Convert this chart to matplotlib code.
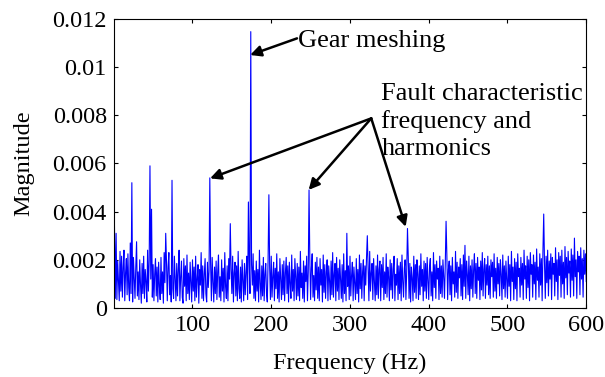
import numpy as np
import matplotlib
matplotlib.use("Agg")
import matplotlib.pyplot as plt

# Spectrum floor, 1 Hz bins from 0 to 600 Hz, in units of 1e-5
floor_e5 = [
    300, 310, 40, 220, 35, 195, 110, 30, 235, 70, 215, 45, 170, 240, 30, 145, 205, 55, 225, 85,
    30, 180, 60, 190, 25, 210, 120, 40, 170, 275, 50, 150, 35, 200, 95, 20, 185, 60, 215, 40,
    160, 110, 25, 240, 70, 195, 30, 120, 260, 45, 180, 30, 140, 205, 50, 170, 25, 190, 90, 35,
    210, 60, 150, 20, 230, 105, 40, 190, 30, 170, 230, 55, 135, 25, 200, 80, 40, 215, 120, 30,
    185, 50, 160, 240, 30, 130, 195, 45, 20, 205, 90, 175, 30, 220, 60, 145, 35, 190, 110, 25,
    200, 70, 170, 30, 215, 45, 120, 180, 20, 160, 95, 230, 40, 175, 30, 140, 205, 60, 25, 190,
    85, 150, 40, 185, 30, 210, 110, 25, 170, 60, 195, 35, 150, 220, 45, 130, 30, 200, 70, 165,
    25, 230, 90, 40, 175, 30, 205, 120, 35, 160, 60, 215, 25, 145, 190, 50, 175, 30, 235, 80,
    40, 170, 25, 200, 110, 30, 185, 55, 150, 215, 35, 125, 200, 60, 30, 180, 95, 225, 40, 155,
    30, 195, 70, 160, 25, 240, 105, 35, 175, 50, 210, 30, 140, 185, 60, 25, 200, 90, 170, 35,
    215, 45, 130, 190, 30, 165, 80, 225, 40, 150, 25, 205, 115, 35, 180, 55, 195, 30, 145, 210,
    60, 175, 25, 190, 100, 40, 220, 70, 160, 30, 205, 130, 35, 185, 50, 170, 30, 235, 85, 145,
    40, 195, 25, 175, 110, 215, 30, 150, 60, 200, 35, 165, 225, 45, 135, 30, 190, 75, 210, 40,
    170, 30, 205, 95, 160, 25, 220, 65, 180, 40, 150, 200, 30, 175, 115, 35, 195, 55, 230, 45,
    140, 185, 30, 210, 70, 165, 35, 200, 120, 40, 180, 25, 225, 60, 155, 30, 195, 90, 175, 35,
    215, 50, 135, 190, 30, 170, 105, 35, 205, 60, 160, 25, 220, 80, 185, 40, 150, 200, 30, 175,
    95, 210, 40, 165, 30, 235, 70, 145, 185, 35, 205, 110, 30, 175, 55, 220, 40, 160, 195, 30,
    180, 85, 210, 35, 150, 60, 225, 45, 170, 130, 30, 200, 75, 185, 40, 160, 215, 30, 140, 95,
    205, 35, 175, 60, 190, 30, 220, 110, 45, 165, 200, 35, 150, 80, 210, 40, 185, 25, 170, 125,
    30, 215, 65, 180, 40, 200, 140, 35, 175, 55, 225, 90, 160, 30, 195, 70, 185, 40, 210, 115,
    35, 170, 205, 50, 150, 30, 230, 85, 180, 40, 195, 120, 165, 35, 215, 60, 175, 45, 200, 130,
    40, 185, 70, 220, 35, 160, 195, 55, 175, 30, 210, 100, 150, 45, 235, 65, 190, 40, 170, 125,
    205, 50, 180, 35, 220, 90, 165, 40, 195, 140, 55, 215, 30, 175, 80, 200, 45, 160, 225, 60,
    185, 40, 210, 115, 170, 35, 195, 75, 230, 50, 160, 205, 40, 180, 95, 215, 55, 175, 40, 200,
    130, 190, 45, 225, 70, 165, 40, 210, 100, 185, 50, 200, 140, 35, 220, 80, 175, 45, 195, 120,
    40, 215, 90, 180, 30, 235, 110, 170, 35, 205, 80, 190, 30, 225, 130, 165, 45, 210, 95, 185,
    35, 240, 120, 175, 40, 215, 85, 200, 30, 230, 140, 180, 45, 220, 100, 190, 35, 245, 115, 170,
    45, 225, 95, 205, 30, 235, 130, 185, 40, 215, 105, 240, 50, 195, 120, 225, 35, 210, 140, 185,
    50, 250, 110, 200, 35, 230, 135, 215, 45, 240, 100, 190, 40, 255, 125, 210, 55, 235, 145, 195,
    45, 245, 115, 220, 50, 260, 130, 200, 40, 235, 150, 215, 55, 250, 120, 205, 45, 240, 140, 225,
    110,
]

# Distinct spectral lines (Hz) and their magnitudes
peak_freqs = [0, 3, 21, 23, 46, 48, 66, 74, 122, 148, 171, 174, 197, 248,
              296, 322, 373, 422, 446, 546, 585]
peak_mags = [0.0059, 0.0031, 0.0027, 0.0052, 0.0059, 0.0041, 0.0031, 0.0053,
             0.0054, 0.0035, 0.0044, 0.01147, 0.0047, 0.0049, 0.0031, 0.0030,
             0.0033, 0.0036, 0.0026, 0.0039, 0.0029]

x_ticks = [100, 200, 300, 400, 500, 600]
y_ticks = [0, 0.002, 0.004, 0.006, 0.008, 0.010, 0.012]
y_tick_labels = ["0", "0.002", "0.004", "0.006", "0.008", "0.01", "0.012"]

freq = np.arange(len(floor_e5), dtype=float)
mag = np.array(floor_e5, dtype=float) * 1e-5
for f, m in zip(peak_freqs, peak_mags):
    mag[int(f)] = m

plt.rcParams["font.family"] = ["Liberation Serif", "DejaVu Serif"]

fig = plt.figure(figsize=(6.05, 3.77), dpi=100)
ax = fig.add_axes([0.188, 0.183, 0.781, 0.767])

ax.plot(freq, mag, color=(0, 0, 1), lw=0.8)

ax.set_xlim(0, 600)
ax.set_ylim(0, 0.012)
ax.set_xticks(x_ticks)
ax.set_yticks(y_ticks)
ax.set_yticklabels(y_tick_labels)
ax.tick_params(direction="in", length=3, width=0.8, top=True, right=True,
               labelsize=17.5, pad=5, colors="black")
for s in ax.spines.values():
    s.set_linewidth(0.8)

ax.set_xlabel("Frequency (Hz)", fontsize=17.5, labelpad=12)
ax.set_ylabel("Magnitude", fontsize=17.5, labelpad=13)

arrow = dict(arrowstyle="-|>", color="black", lw=1.8, mutation_scale=16,
             shrinkA=0, shrinkB=0)

ax.annotate("", xy=(173.2, 0.0105), xytext=(232.7, 0.01119), arrowprops=arrow)
ax.text(234, 0.0111, "Gear meshing", fontsize=19, va="center", ha="left")

tail = (327, 0.00787)
for tip in [(122.3, 0.00538), (247.5, 0.0049), (370.7, 0.00337)]:
    ax.annotate("", xy=tip, xytext=tail, arrowprops=arrow)
ax.text(340, 0.00935, "Fault characteristic\nfrequency and\nharmonics",
        fontsize=19, va="top", ha="left", linespacing=1.3)

fig.savefig("out.png", dpi=100)
